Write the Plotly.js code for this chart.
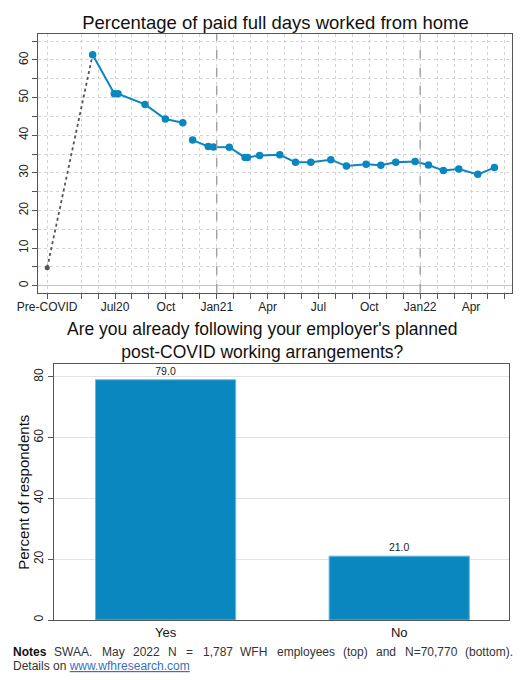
<!DOCTYPE html>
<html>
<head>
<meta charset="utf-8">
<script src="https://cdn.plot.ly/plotly-3.0.1.min.js"></script>
<style>
  html, body { margin: 0; padding: 0; background: #fff; }
  #chart { width: 525px; height: 680px; }
</style>
</head>
<body>
<div id="chart"></div>
<script>
// ---------- DATA (top chart) ----------
// x = months since Jan 2020 (Jan20 = 0); "Pre-COVID" is drawn at the Mar20 slot
const preCovidMonth = [2];
const preCovidShare = [4.8];

const wave1Months = [4.68, 5.96, 6.18, 7.77, 8.97, 10.0];
const wave1Share  = [61.4, 51.0, 51.0, 48.2, 44.3, 43.3];

const wave2Months = [10.58, 11.5, 11.81, 12.74, 13.67, 13.81, 14.53, 15.72, 16.65, 17.55,
                     18.73, 19.65, 20.81, 21.68, 22.56, 23.70, 24.49, 25.37, 26.28, 27.40, 28.38];
const wave2Share  = [38.7, 37.0, 36.9, 36.8, 34.1, 34.1, 34.6, 34.8, 32.8, 32.8,
                     33.5, 31.8, 32.3, 32.0, 32.8, 33.0, 32.1, 30.6, 31.0, 29.6, 31.4];

const monthTickVals = [2, 4, 5, 6, 7, 8, 9, 10, 11, 12, 13, 14, 15, 16, 17, 18, 19, 20,
                       21, 22, 23, 24, 25, 26, 27, 28, 29];
const monthTickText = ['Pre-COVID', '', '', 'Jul20', '', '', 'Oct', '', '', 'Jan21', '', '',
                       'Apr', '', '', 'Jul', '', '', 'Oct', '', '', 'Jan22', '', '', 'Apr', '', ''];
const yearBreaks = [12, 24];
const shareTicks = [0, 10, 20, 30, 40, 50, 60];

// ---------- DATA (bottom chart) ----------
const answerCategories = ['Yes', 'No'];
const answerPercent = [79.0, 21.0];
const percentTicks = [0, 20, 40, 60, 80];

// ---------- STYLE ----------
const blue = '#0a87bf';
const W = 525, H = 680;
const px = v => v / W;
const py = v => 1 - v / H;
const font = 'Liberation Sans, Arial, Helvetica, sans-serif';

const traces = [
  {
    x: preCovidMonth.concat([wave1Months[0]]),
    y: preCovidShare.concat([wave1Share[0]]),
    xaxis: 'x', yaxis: 'y',
    mode: 'lines', type: 'scatter',
    line: { color: '#555', width: 1.8, dash: 'dot' },
    hoverinfo: 'skip', showlegend: false
  },
  {
    x: preCovidMonth, y: preCovidShare,
    xaxis: 'x', yaxis: 'y',
    mode: 'markers', type: 'scatter',
    marker: { color: '#555', size: 5 },
    showlegend: false
  },
  {
    x: wave1Months, y: wave1Share,
    xaxis: 'x', yaxis: 'y',
    mode: 'lines+markers', type: 'scatter',
    line: { color: blue, width: 2 },
    marker: { color: blue, size: 7.5 },
    showlegend: false
  },
  {
    x: wave2Months, y: wave2Share,
    xaxis: 'x', yaxis: 'y',
    mode: 'lines+markers', type: 'scatter',
    line: { color: blue, width: 2 },
    marker: { color: blue, size: 7.5 },
    showlegend: false
  },
  {
    x: answerCategories, y: answerPercent,
    xaxis: 'x2', yaxis: 'y2',
    type: 'bar', width: 0.6,
    marker: { color: blue, line: { color: '#5bbde6', width: 1 } },
    text: answerPercent.map(v => v.toFixed(1)),
    textposition: 'outside',
    textfont: { family: font, size: 10.5, color: '#222' },
    cliponaxis: false,
    showlegend: false
  }
];

const shapes = yearBreaks.map(m => ({
  type: 'line', xref: 'x', yref: 'y domain',
  x0: m, x1: m, y0: 0, y1: 1,
  line: { color: '#999', width: 1.3, dash: 'dash' },
  layer: 'above'
}));

const noteWords = [
  ['<b>Notes</b>', 12.3], ['SWAA.', 53.3], ['May', 100.7], ['2022', 132], ['N', 166.7],
  ['=', 185], ['1,787', 201.7], ['WFH', 239.3], ['employees', 276], ['(top)', 341.7],
  ['and', 375], ['N=70,770', 404], ['(bottom).', 464.3]
];

const annotations = [
  {
    text: "Are you already following your employer's planned<br>post-COVID working arrangements?",
    xref: 'paper', yref: 'paper', x: px(262), y: py(340.5),
    xanchor: 'center', yanchor: 'middle', align: 'center', showarrow: false,
    borderpad: 0,
    font: { family: font, size: 17.5, color: '#111' }
  },
  {
    text: 'Percent of respondents',
    xref: 'paper', yref: 'paper', x: px(23.3), y: py(492.5),
    xanchor: 'center', yanchor: 'middle', textangle: -90, showarrow: false,
    font: { family: font, size: 15, color: '#111' }
  },
  {
    text: 'Details on <a href="https://www.wfhresearch.com"><span style="color:#3a6fc4"><u>www.wfhresearch.com</u></span></a>',
    xref: 'paper', yref: 'paper', x: px(11.3), y: py(666),
    xanchor: 'left', yanchor: 'middle', showarrow: false,
    font: { family: font, size: 12, color: '#333' }
  }
].concat(noteWords.map(([w, x]) => ({
  text: w, xref: 'paper', yref: 'paper', x: px(x - 1), y: py(652),
  xanchor: 'left', yanchor: 'middle', showarrow: false,
  font: { family: font, size: 12, color: w.startsWith('<b>') ? '#111' : '#333' }
})));

const axisCommon = {
  showline: true, mirror: true, linecolor: '#555', linewidth: 1,
  tickfont: { family: font, size: 12, color: '#222' },
  ticks: 'outside', ticklen: 5, tickcolor: '#555'
};

const layout = {
  width: W, height: H,
  margin: { l: 0, r: 0, t: 0, b: 0 },
  paper_bgcolor: '#fff', plot_bgcolor: '#fff',
  font: { family: font },
  showlegend: false,
  title: {
    text: 'Percentage of paid full days worked from home',
    xref: 'paper', yref: 'paper', x: px(275.5), y: py(22.3),
    xanchor: 'center', yanchor: 'middle',
    font: { family: font, size: 18.5, color: '#111' }
  },
  xaxis: Object.assign({}, axisCommon, {
    domain: [px(38.3), px(511.7)],
    range: [1.475, 29.40],
    tickmode: 'array', tickvals: monthTickVals, ticktext: monthTickText,
    ticklabelstandoff: -2,
    showgrid: true, gridcolor: '#d4d4d4', griddash: 'dot', gridwidth: 1,
    zeroline: false, anchor: 'y'
  }),
  yaxis: Object.assign({}, axisCommon, {
    domain: [py(292.7), py(34.3)],
    range: [-1.86, 66.83],
    tickmode: 'array', tickvals: shareTicks, tickangle: -90,
    showgrid: true, gridcolor: '#d4d4d4', griddash: 'dot', gridwidth: 1,
    minor: { tickmode: 'linear', tick0: 0, dtick: 5, ticks: 'outside', ticklen: 5,
             tickcolor: '#555', showgrid: true, gridcolor: '#d4d4d4', griddash: 'dot' },
    zeroline: true, zerolinecolor: '#c4c4c4', zerolinewidth: 1.2,
    anchor: 'x'
  }),
  xaxis2: Object.assign({}, axisCommon, {
    domain: [px(54), px(509.3)],
    type: 'category',
    range: [-0.4775, 1.471],
    ticks: '', showgrid: false, zeroline: false,
    tickfont: { family: font, size: 13, color: '#111' },
    anchor: 'y2'
  }),
  yaxis2: Object.assign({}, axisCommon, {
    domain: [py(620), py(364.3)],
    range: [0, 84.1],
    tickmode: 'array', tickvals: percentTicks, tickangle: -90,
    showgrid: true, gridcolor: '#e3e3e3', gridwidth: 1,
    zeroline: false,
    anchor: 'x2'
  }),
  shapes: shapes,
  annotations: annotations
};

Plotly.newPlot('chart', traces, layout, { displayModeBar: false, staticPlot: true });
</script>
</body>
</html>
